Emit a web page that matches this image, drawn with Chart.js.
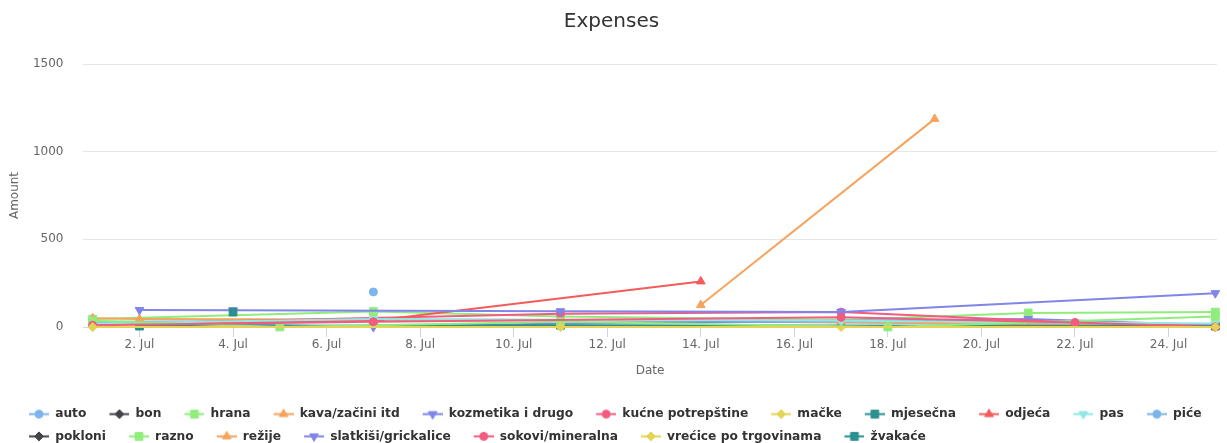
<!DOCTYPE html>
<html>
<head>
<meta charset="utf-8">
<title>Expenses</title>
<script src="https://cdn.jsdelivr.net/npm/chart.js@4.4.0/dist/chart.umd.min.js"></script>
<style>
    html, body { margin: 0; padding: 0; background: #ffffff; }
    #wrap { width: 1227px; height: 443px; }
</style>
</head>
<body>
<div id="wrap"><canvas id="expensesChart"></canvas></div>
<script>
// Series names (legend order)
const seriesNames = ['auto', 'bon', 'hrana', 'kava/začini itd', 'kozmetika i drugo', 'kućne potrepštine',
    'mačke', 'mjesečna', 'odjeća', 'pas', 'piće', 'pokloni', 'razno', 'režije',
    'slatkiši/grickalice', 'sokovi/mineralna', 'vrećice po trgovinama', 'žvakaće'];

// [day of July, amount] for each series
const autoPts = [[1, 30], [11, 40], [17, 25], [25, 10]];
const bonPts = [[1, 5]];
const hranaPts = [[1, 45], [7, 88], [11, 60], [17, 40], [21, 80], [25, 85]];
const kavaPts = [[1, 50], [2, 45], [11, 40], [17, 30], [25, 0]];
const kozmetikaPts = [[1, 30], [7, 0], [11, 20], [21, 45], [25, 10]];
const kucnePts = [[1, 15], [11, 75], [17, 85], [22, 25], [25, 5]];
const mackePts = [[1, 0], [11, 0], [17, 0], [25, 0]];
const mjesecnaPts = [[2, 5], [11, 10], [25, 5]];
const odjecaPts = [[1, 15], [7, 35], [14, 260]];
const pasPts = [[1, 20], [7, 45], [17, 35], [25, 20]];
const picePts = [[7, 200]];
const pokloniPts = [[25, 0]];
const raznoPts = [[1, 35], [5, 0], [11, 30], [18, 0], [25, 60]];
const rezijePts = [[14, 125], [19, 1187]];
const slatkisiPts = [[2, 97], [4, 95], [11, 90], [17, 85], [25, 193]];
const sokoviPts = [[1, 10], [7, 30], [17, 55], [22, 25], [25, 0]];
const vreicePts = [[1, 0], [11, 0], [25, 0]];
const zvakacePts = [[4, 85]];

const seriesPoints = [autoPts, bonPts, hranaPts, kavaPts, kozmetikaPts, kucnePts, mackePts, mjesecnaPts,
    odjecaPts, pasPts, picePts, pokloniPts, raznoPts, rezijePts, slatkisiPts, sokoviPts, vreicePts, zvakacePts];

// Axis ticks
const xTickDays = [2, 4, 6, 8, 10, 12, 14, 16, 18, 20, 22, 24];
const yTickValues = [0, 500, 1000, 1500];

// Look of the series (cycled like the original palette)
const palette = ['#7cb5ec', '#434348', '#90ed7d', '#f7a35c', '#8085e9', '#f15c80', '#e4d354', '#2b908f', '#f45b5b', '#91e8e1'];
const markers = [
    { style: 'circle', radius: 4, rotation: 0 },
    { style: 'rectRot', radius: 4.5, rotation: 0 },
    { style: 'rect', radius: 5.5, rotation: 0 },
    { style: 'triangle', radius: 5, rotation: 0 },
    { style: 'triangle', radius: 5, rotation: 180 }
];

const fontFamily = '"DejaVu Sans", Verdana, sans-serif';
const legendWrapWidth = 1221;

// small line + marker icon for the legend (blank space on the left acts as item spacing)
function makeLegendIcon(color, marker) {
    const c = document.createElement('canvas');
    c.width = 33;
    c.height = 13;
    const ctx = c.getContext('2d');
    ctx.strokeStyle = color;
    ctx.lineWidth = 2;
    ctx.beginPath();
    ctx.moveTo(13, 6.5);
    ctx.lineTo(33, 6.5);
    ctx.stroke();
    ctx.fillStyle = color;
    ctx.lineWidth = 1;
    Chart.helpers.drawPoint(ctx, {
        pointStyle: marker.style,
        radius: marker.radius,
        rotation: marker.rotation,
        borderWidth: 1
    }, 23, 6.5);
    return c;
}

// let the legend rows use the whole canvas width
const legendWrap = {
    id: 'legendWrap',
    afterInit: function(chart) {
        const legend = chart.legend;
        if (!legend) return;
        const origFit = legend.fit;
        legend.fit = function() {
            const full = this.maxWidth;
            this.maxWidth = legendWrapWidth;
            origFit.call(this);
            this.maxWidth = full;
            this.width = full;
        };
        const origDraw = legend.draw;
        legend.draw = function() {
            const right = this.right;
            this.right = this.left + legendWrapWidth;
            origDraw.call(this);
            this.right = right;
        };
    }
};

document.addEventListener('DOMContentLoaded', function() {
    const datasets = seriesNames.map((name, i) => {
        const color = palette[i % palette.length];
        const marker = markers[i % markers.length];
        return {
            label: name,
            data: seriesPoints[i].map(p => ({ x: p[0], y: p[1] })),
            borderColor: color,
            backgroundColor: color,
            borderWidth: 2,
            pointStyle: marker.style,
            pointRotation: marker.rotation,
            pointRadius: marker.radius,
            pointHoverRadius: marker.radius + 1,
            pointBorderWidth: 1,
            pointBorderColor: color,
            pointBackgroundColor: color,
            tension: 0,
            clip: false,
            order: -i,
            legendIcon: makeLegendIcon(color, marker)
        };
    });

    const ctx = document.getElementById('expensesChart').getContext('2d');
    new Chart(ctx, {
        type: 'line',
        data: { datasets: datasets },
        plugins: [legendWrap],
        options: {
            responsive: true,
            maintainAspectRatio: false,
            animation: false,
            layout: {
                padding: { left: 6, right: 10, top: 0, bottom: -9.5 }
            },
            plugins: {
                title: {
                    display: true,
                    text: 'Expenses',
                    color: '#333333',
                    font: { family: fontFamily, size: 20, weight: 'normal' },
                    padding: { top: 10, bottom: 30 }
                },
                legend: {
                    position: 'bottom',
                    align: 'start',
                    labels: {
                        usePointStyle: true,
                        pointStyleWidth: 33,
                        padding: 10,
                        color: '#333333',
                        font: { family: fontFamily, size: 12.25, weight: 'bold' },
                        generateLabels: function(chart) {
                            return chart.data.datasets.map((ds, i) => ({
                                text: ds.label,
                                fillStyle: ds.borderColor,
                                strokeStyle: ds.borderColor,
                                lineWidth: 0,
                                pointStyle: ds.legendIcon,
                                fontColor: '#333333',
                                hidden: !chart.isDatasetVisible(i),
                                datasetIndex: i
                            }));
                        }
                    }
                },
                tooltip: { enabled: true }
            },
            scales: {
                x: {
                    type: 'linear',
                    min: 0.7926,
                    max: 25.036,
                    afterBuildTicks: function(scale) {
                        scale.ticks = xTickDays.map(v => ({ value: v }));
                    },
                    afterFit: function(scale) {
                        scale.height = 71;
                    },
                    ticks: {
                        autoSkip: false,
                        maxRotation: 0,
                        padding: 1,
                        color: '#666666',
                        font: { family: fontFamily, size: 12 },
                        callback: function(value) { return value + '. Jul'; }
                    },
                    grid: {
                        drawOnChartArea: false,
                        drawTicks: true,
                        tickLength: 10,
                        color: '#ccd6eb'
                    },
                    border: { color: '#ccd6eb' },
                    title: {
                        display: true,
                        text: 'Date',
                        color: '#666666',
                        font: { family: fontFamily, size: 12 },
                        padding: { top: 0, bottom: 20 }
                    }
                },
                y: {
                    min: 0,
                    max: 1500,
                    afterBuildTicks: function(scale) {
                        scale.ticks = yTickValues.map(v => ({ value: v }));
                    },
                    afterFit: function(scale) {
                        scale.width = 77;
                    },
                    ticks: {
                        padding: 19.5,
                        color: '#666666',
                        font: { family: fontFamily, size: 12 },
                        callback: function(value) { return String(value); }
                    },
                    grid: {
                        color: '#e6e6e6',
                        drawTicks: false
                    },
                    border: { display: false },
                    title: {
                        display: true,
                        text: 'Amount',
                        color: '#666666',
                        font: { family: fontFamily, size: 12 },
                        padding: { top: 2, bottom: 0 }
                    }
                }
            }
        }
    });
});
</script>
</body>
</html>
